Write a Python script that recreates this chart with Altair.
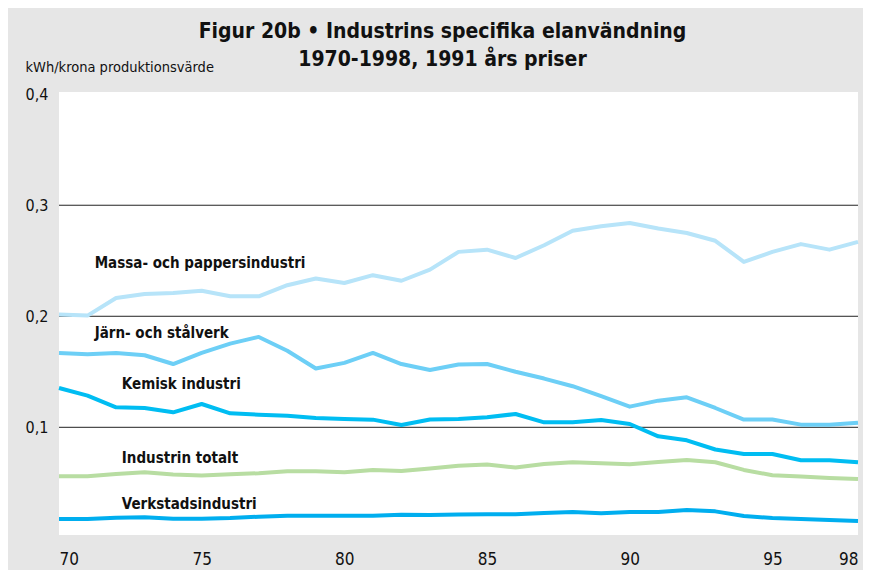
import altair as alt
import pandas as pd

years = list(range(70, 99))

massa = [0.2015, 0.2006, 0.2165, 0.220, 0.221, 0.223, 0.218, 0.218, 0.228, 0.234,
         0.230, 0.237, 0.232, 0.242, 0.258, 0.260, 0.2525, 0.264, 0.277, 0.281,
         0.284, 0.279, 0.275, 0.268, 0.249, 0.258, 0.265, 0.260, 0.267]
jarn = [0.167, 0.1658, 0.167, 0.1649, 0.157, 0.167, 0.1754, 0.1814, 0.169, 0.153,
        0.158, 0.167, 0.157, 0.1516, 0.1565, 0.157, 0.150, 0.1439, 0.137, 0.128,
        0.1186, 0.124, 0.127, 0.1174, 0.107, 0.107, 0.1024, 0.1024, 0.104]
kemisk = [0.1354, 0.1285, 0.118, 0.1174, 0.1135, 0.121, 0.1126, 0.1114, 0.1105, 0.1084,
          0.1075, 0.1069, 0.102, 0.107, 0.1075, 0.109, 0.112, 0.1045, 0.1045, 0.1066,
          0.103, 0.0919, 0.0883, 0.080, 0.076, 0.076, 0.0703, 0.0703, 0.0685]
totalt = [0.0559, 0.0559, 0.058, 0.0595, 0.0574, 0.0565, 0.0577, 0.0586, 0.0604, 0.0604,
          0.0595, 0.0616, 0.0607, 0.0628, 0.0653, 0.0664, 0.0637, 0.067, 0.0685, 0.0676,
          0.0667, 0.0688, 0.0706, 0.0685, 0.0616, 0.0568, 0.0556, 0.0543, 0.0535]
verkstad = [0.0174, 0.0174, 0.0186, 0.0189, 0.0177, 0.0177, 0.0183, 0.0195, 0.0204, 0.0204,
            0.0204, 0.0204, 0.0213, 0.0211, 0.0215, 0.0216, 0.0216, 0.0228, 0.0237, 0.0225,
            0.0237, 0.0237, 0.0255, 0.0243, 0.0201, 0.0183, 0.0174, 0.0165, 0.0156]

series_names = ["Massa- och pappersindustri", "Järn- och stålverk", "Kemisk industri",
                "Industrin totalt", "Verkstadsindustri"]
series_values = [massa, jarn, kemisk, totalt, verkstad]
series_colors = ["#b7e4f9", "#6dcff6", "#00bdf2", "#b8dda2", "#00aeef"]

label_x = [71.25, 71.25, 72.2, 72.2, 72.2]
label_y = [0.2477, 0.1847, 0.1387, 0.0722, 0.0306]

grid_values = [0.1, 0.2, 0.3]
y_ticks = [0.1, 0.2, 0.3, 0.4]
x_ticks = [70, 75, 80, 85, 90, 95, 98]

rows = []
for name, vals in zip(series_names, series_values):
    for yr, v in zip(years, vals):
        rows.append({"serie": name, "year": yr, "value": v})
df = pd.DataFrame(rows)
labels_df = pd.DataFrame({"serie": series_names, "x": label_x, "y": label_y})
grid_df = pd.DataFrame({"g": grid_values})

FONT = "DejaVu Sans Condensed, Liberation Sans"

xscale = alt.Scale(domain=[70, 98], nice=False, zero=False)
yscale = alt.Scale(domain=[0.003, 0.402], nice=False, zero=False)

grid = alt.Chart(grid_df).mark_rule(color="#222222", strokeWidth=1).encode(
    y=alt.Y("g:Q", scale=yscale)
)

lines = alt.Chart(df).mark_line(strokeWidth=4, strokeJoin="round").encode(
    x=alt.X("year:Q", scale=xscale,
            axis=alt.Axis(values=x_ticks, format="d", title=None, grid=False, domain=False,
                          ticks=False, labelFontSize=17, labelColor="#111111", labelPadding=16,
                          labelFont=FONT)),
    y=alt.Y("value:Q", scale=yscale,
            axis=alt.Axis(values=y_ticks, format=".1f", labelExpr="replace(datum.label, '.', ',')",
                          grid=False, domain=False, ticks=False, labelAlign="left",
                          labelPadding=34, labelFontSize=16, labelColor="#111111", labelFont=FONT,
                          title="kWh/krona produktionsvärde", titleAngle=0, titleAlign="left",
                          titleBaseline="middle", titleX=-34, titleY=-25, titleFontSize=14.5,
                          titleFontWeight="normal", titleColor="#111111", titleFont=FONT)),
    color=alt.Color("serie:N", scale=alt.Scale(domain=series_names, range=series_colors), legend=None),
    detail="serie:N",
)

texts = alt.Chart(labels_df).mark_text(align="left", baseline="middle", fontSize=15,
                                       fontWeight="bold", color="#111111", font=FONT).encode(
    x=alt.X("x:Q", scale=xscale),
    y=alt.Y("y:Q", scale=yscale),
    text="serie:N",
)

chart = alt.layer(grid, lines, texts).properties(
    width=799, height=443,
    padding={"left": 51, "top": 84, "right": 5, "bottom": 35},
    autosize=alt.AutoSizeParams(type="none"),
    background="#e6e6e6",
    title=alt.TitleParams(
        text=["Figur 20b • Industrins specifika elanvändning", "1970-1998, 1991 års priser"],
        fontSize=21, fontWeight="bold", lineHeight=28, color="#111111", font=FONT,
        anchor="middle", dx=-16, dy=23, offset=12,
    ),
).configure_view(fill="white", stroke=None)

chart.save("out.html", embed_options={"renderer": "svg", "actions": False})
